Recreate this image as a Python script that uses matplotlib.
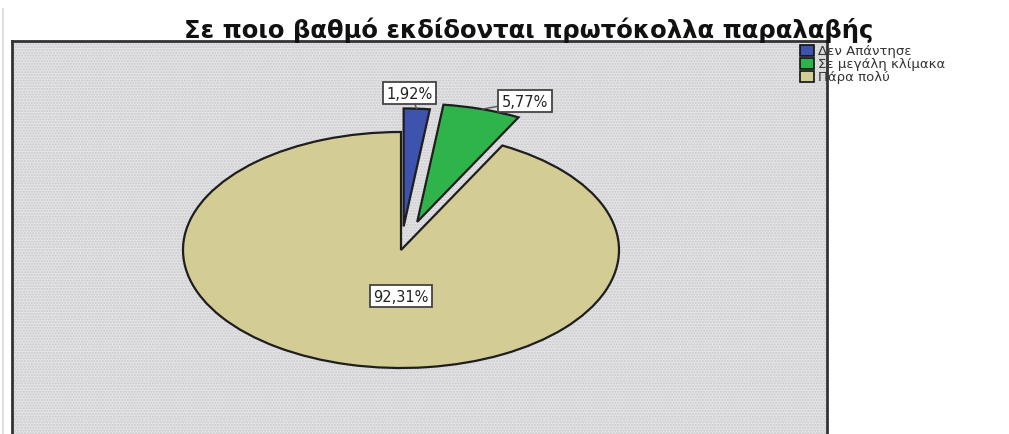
import numpy as np
import matplotlib
matplotlib.use("Agg")
import matplotlib.pyplot as plt
from matplotlib.patches import Rectangle

# survey answers and their shares (%)
answers = ["Δεν Απάντησε", "Σε μεγάλη κλίμακα", "Πάρα πολύ"]
shares = [1.92, 5.77, 92.31]
pct_labels = ["1,92%", "5,77%", "92,31%"]
title = "Σε ποιο βαθμό εκδίδονται πρωτόκολλα παραλαβής"

colors = ["#3d53ad", "#2fb44b", "#d3cd95"]
explode = [0.2, 0.25, 0.0]

W, H = 1009, 435
fig = plt.figure(figsize=(W / 100, H / 100), dpi=100)
fig.patch.set_facecolor("white")

# dotted grey panel behind the pie (runs off the bottom edge)
bg = fig.add_axes([12 / W, -0.05, (827 - 12) / W, (435 - 42) / H + 0.05])
bg.set_xlim(0, 1)
bg.set_ylim(0, 1)
bg.set_xticks([])
bg.set_yticks([])
bg.set_facecolor("#e4e4e6")
bg.add_patch(Rectangle((0, 0), 1, 1, facecolor="none", edgecolor="#c9c9cc",
                       hatch="......", linewidth=0))
for side in ["top", "left", "right", "bottom"]:
    bg.spines[side].set_color("#333333")
    bg.spines[side].set_linewidth(2)

# faint line at the far left
fig.add_artist(plt.Line2D([3 / W, 3 / W], [0, 1 - 10 / H], color="#d8d8e0",
                          linewidth=1.2, transform=fig.transFigure))

# pie axes: box equals the ellipse bounds so the pie is squashed
cx, cy, rx, ry = 401, 251, 218, 118
ax = fig.add_axes([(cx - rx) / W, (H - cy - ry) / H, 2 * rx / W, 2 * ry / H])
wedges, _ = ax.pie(shares, colors=colors, explode=explode, startangle=90,
                   counterclock=False,
                   wedgeprops=dict(edgecolor="#1e1e1e", linewidth=1.6))
ax.set_aspect("auto")
ax.set_xlim(-1, 1)
ax.set_ylim(-1, 1)
ax.axis("off")
for w in wedges:
    w.set_clip_on(False)

box = dict(boxstyle="square,pad=0.25", facecolor="white", edgecolor="#444444",
           linewidth=1.3)
label_pos = [(0.04, 1.33), (0.57, 1.26), (0.0, -0.39)]
for i, w in enumerate(wedges):
    mid = np.deg2rad((w.theta1 + w.theta2) / 2)
    r = 1 + explode[i]
    tip = (r * np.cos(mid), r * np.sin(mid))
    if i < 2:
        ax.annotate(pct_labels[i], xy=tip, xytext=label_pos[i],
                    ha="center", va="center", fontsize=10.5, color="#222222",
                    bbox=box, annotation_clip=False,
                    arrowprops=dict(arrowstyle="-", color="#555555", lw=1,
                                    shrinkA=0, shrinkB=0))
    else:
        ax.text(*label_pos[i], pct_labels[i], ha="center", va="center",
                fontsize=10.5, color="#222222", bbox=box)

fig.text(529 / W, 1 - 30 / H, title, ha="center", va="center",
         fontsize=17.5, fontweight="bold", color="#111111")

# legend drawn as squares with text on the right
for i, name in enumerate(answers):
    y = 51 + 13.3 * i
    fig.add_artist(Rectangle((800 / W, 1 - (y + 5.5) / H), 14 / W, 11 / H,
                             facecolor=colors[i], edgecolor="#111111",
                             linewidth=1.2, transform=fig.transFigure))
    fig.text(818 / W, 1 - y / H, name, ha="left", va="center",
             fontsize=9.5, color="#333333")

fig.savefig("out.png", dpi=100)
